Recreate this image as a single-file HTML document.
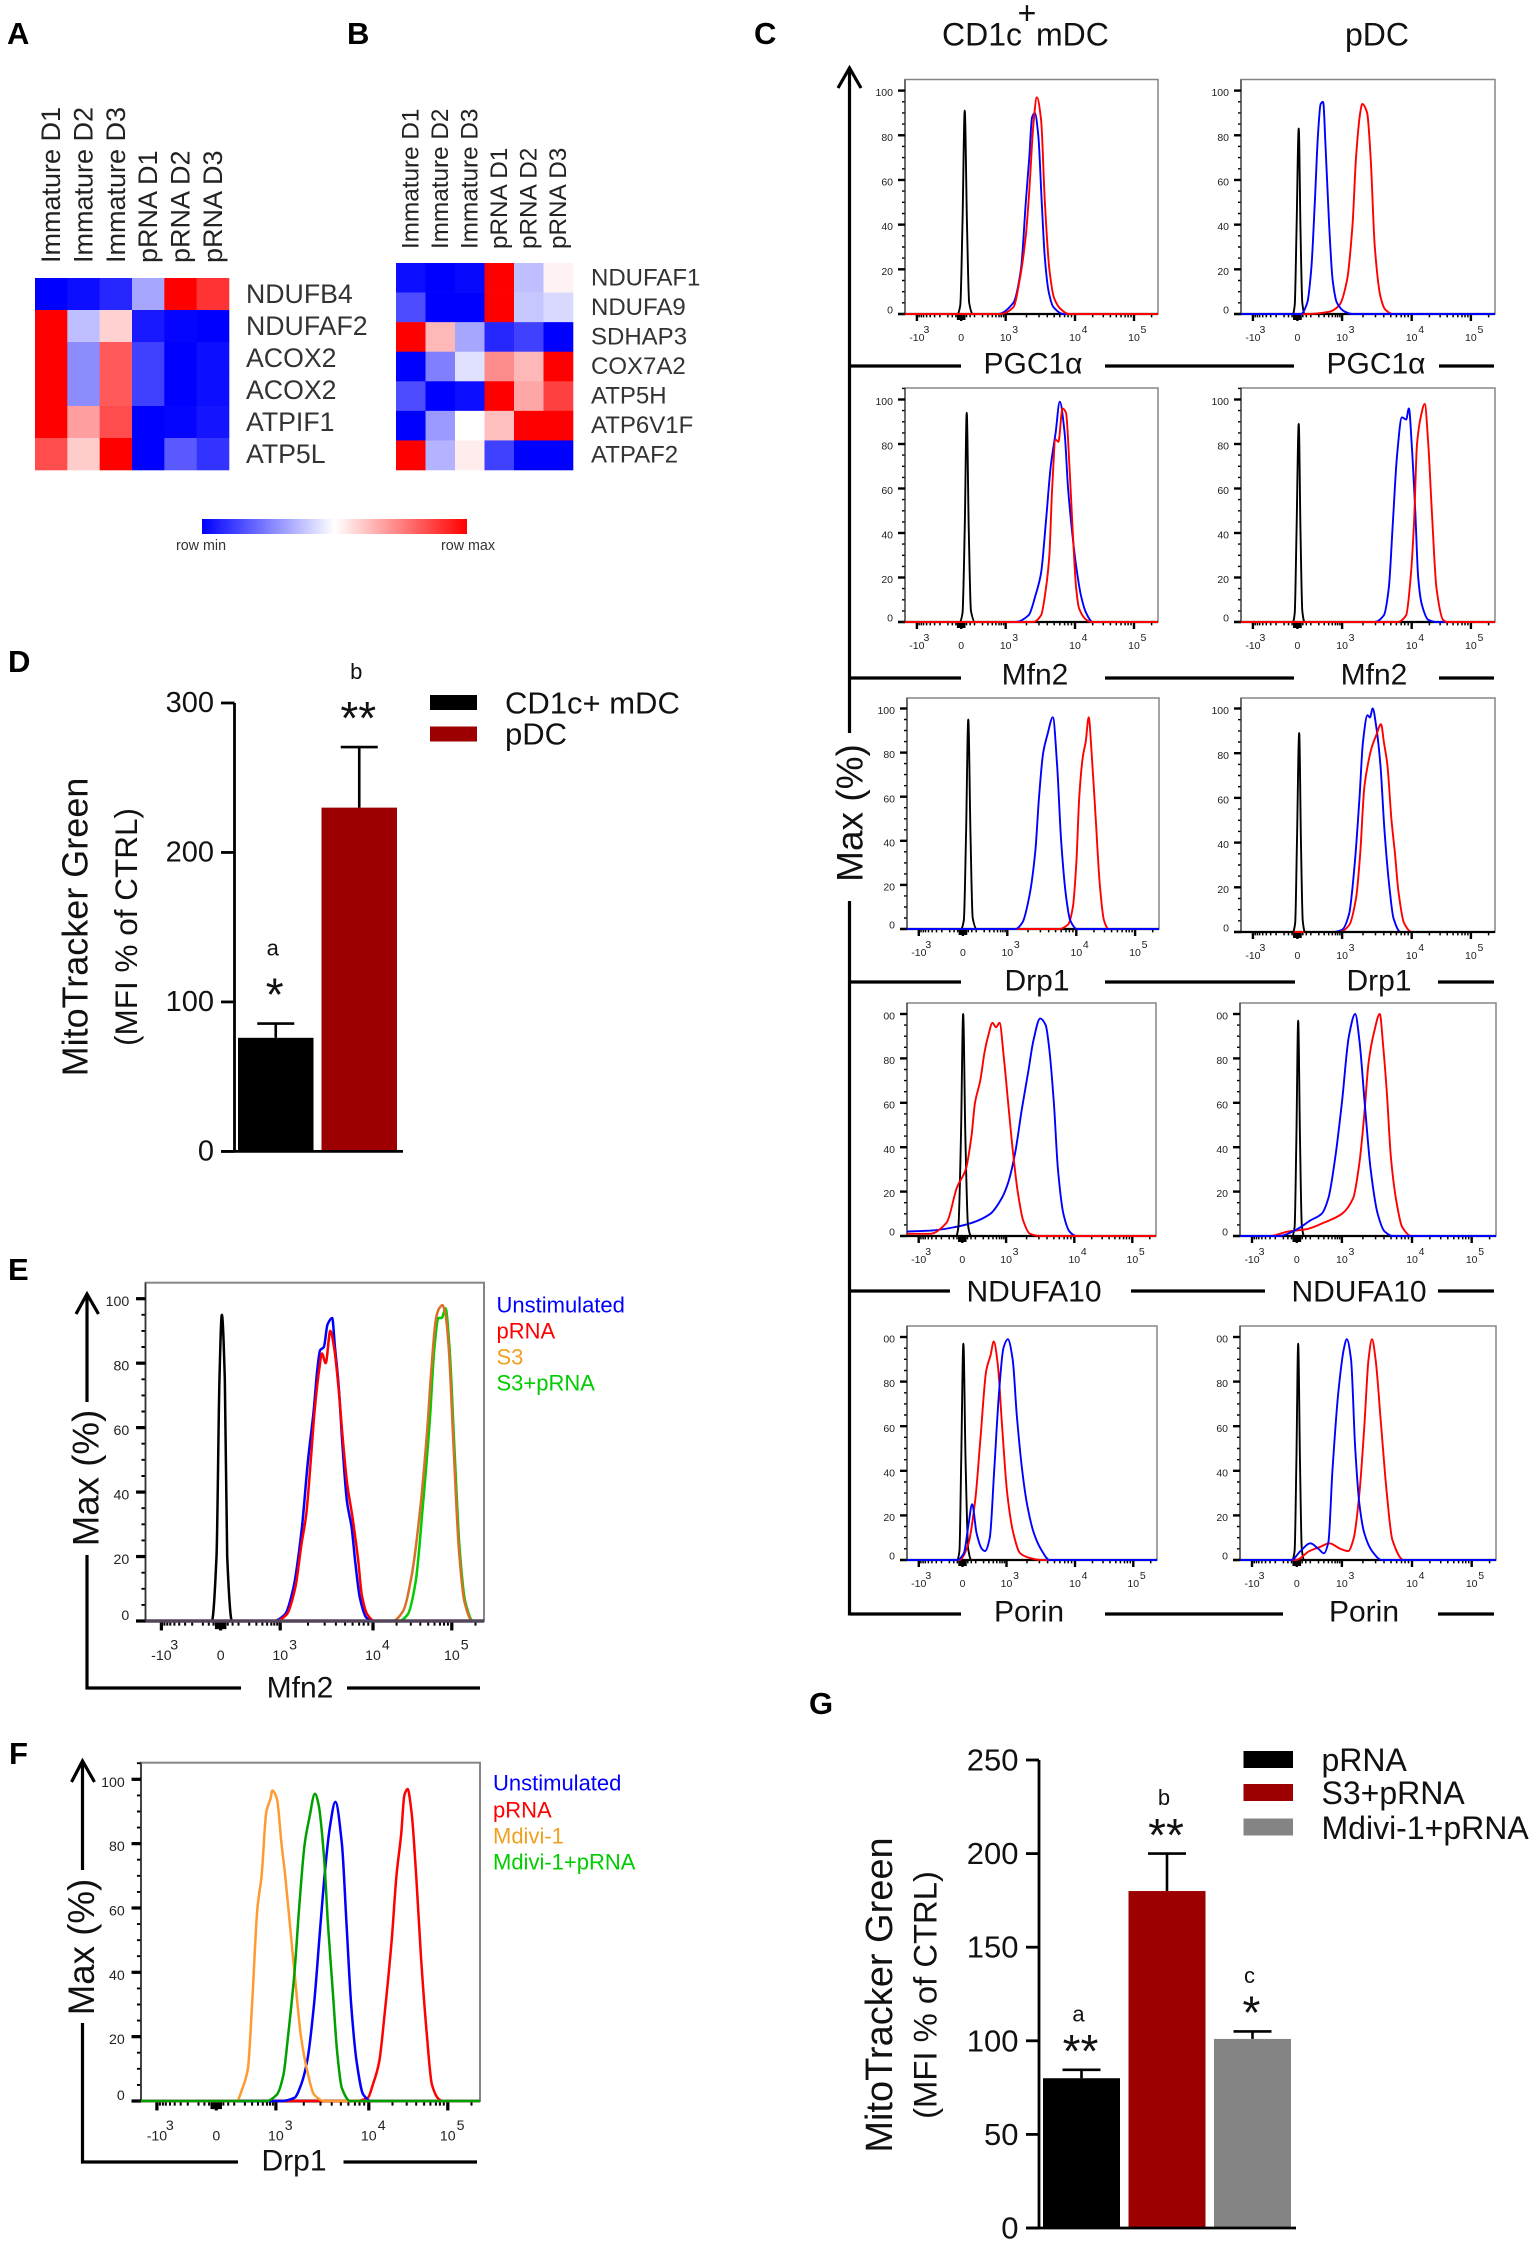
<!DOCTYPE html>
<html lang="en">
<head>
<meta charset="utf-8">
<title>Dendritic cell mitochondrial figure</title>
<style>
html,body{margin:0;padding:0;background:#fff;}
svg{display:block;}
text{font-family:"Liberation Sans",sans-serif;fill:#000;}
.letter{font-size:31px;font-weight:bold;}
.head{font-size:32px;fill:#111;}
.xlab{font-size:30px;text-anchor:middle;dominant-baseline:central;fill:#111;}
.ylab{text-anchor:middle;dominant-baseline:central;fill:#111;}
.leg{font-size:22px;dominant-baseline:central;}
.line{stroke:#000;fill:none;stroke-width:3.2;}
</style>
</head>
<body>
<svg id="figure" xmlns="http://www.w3.org/2000/svg" width="1534" height="2245" viewBox="0 0 1534 2245">
  <defs>
    <linearGradient id="rowScale" x1="0" x2="1" y1="0" y2="0">
      <stop offset="0" stop-color="#0000ff"/>
      <stop offset="0.5" stop-color="#ffffff"/>
      <stop offset="1" stop-color="#ff0000"/>
    </linearGradient>
  </defs>
  <rect x="0" y="0" width="1534" height="2245" fill="#fff"/>

  <text class="letter" x="7" y="44">A</text>
  <text class="letter" x="347" y="44">B</text>
  <text class="letter" x="754" y="44">C</text>
  <text class="letter" x="8" y="672">D</text>
  <text class="letter" x="8" y="1280">E</text>
  <text class="letter" x="9" y="1764">F</text>
  <text class="letter" x="809" y="1714">G</text>

  <rect x="202" y="519" width="265" height="15" fill="url(#rowScale)"/>
  <text x="201" y="546" font-size="14.3" text-anchor="middle" dominant-baseline="central" style="fill:#333">row min</text>
  <text x="468" y="546" font-size="14.3" text-anchor="middle" dominant-baseline="central" style="fill:#333">row max</text>

  <text class="head" x="942" y="45.5">CD1c</text>
  <text class="head" x="1027" y="24" text-anchor="middle">+</text>
  <text class="head" x="1036" y="45.5">mDC</text>
  <text class="head" x="1377" y="45.5" text-anchor="middle">pDC</text>

  <g>
    <path class="line" d="M849.5 68V733"/>
    <path class="line" d="M849.5 901V1615.5"/>
    <path class="line" d="M838 88L849.5 68L861 88"/>
    <path class="line" d="M850 366H961M1105 366H1294M1439 366H1494"/>
    <path class="line" d="M850 678H961M1105 678H1294M1439 678H1494"/>
    <path class="line" d="M850 982H961M1105 982H1295M1438 982H1494"/>
    <path class="line" d="M850 1291H950M1131 1291H1265M1438 1291H1494"/>
    <path class="line" d="M850 1614H961M1105 1614H1283M1438 1614H1494"/>
  </g>
  <text class="ylab" font-size="37" transform="translate(850 813) rotate(-90)">Max (%)</text>
  <text class="xlab" x="1033" y="364">PGC1α</text>
  <text class="xlab" x="1376" y="364">PGC1α</text>
  <text class="xlab" x="1035" y="675">Mfn2</text>
  <text class="xlab" x="1374" y="675">Mfn2</text>
  <text class="xlab" x="1037" y="981">Drp1</text>
  <text class="xlab" x="1379" y="981">Drp1</text>
  <text class="xlab" x="1034" y="1292">NDUFA10</text>
  <text class="xlab" x="1359" y="1292">NDUFA10</text>
  <text class="xlab" x="1029" y="1612">Porin</text>
  <text class="xlab" x="1364" y="1612">Porin</text>

  <text x="1486" y="97" font-size="22" text-anchor="end" dominant-baseline="central" style="fill:#000">Isotype</text>
  <text x="1486" y="123" font-size="22" text-anchor="end" dominant-baseline="central" style="fill:#0000ff">Unstim</text>
  <text x="1486" y="150" font-size="22" text-anchor="end" dominant-baseline="central" style="fill:#ff0000">pRNA</text>

  <!-- Panel D static text -->
  <text class="ylab" font-size="36" transform="translate(75 927) rotate(-90)">MitoTracker Green</text>
  <text class="ylab" font-size="31.5" transform="translate(126 927) rotate(-90)">(MFI % of CTRL)</text>
  <rect x="430" y="695" width="47" height="15" fill="#000"/>
  <rect x="430" y="726.5" width="47" height="15" fill="#9c0000"/>
  <text x="505" y="703" font-size="31" dominant-baseline="central" style="fill:#111">CD1c+ mDC</text>
  <text x="505" y="734" font-size="31" dominant-baseline="central" style="fill:#111">pDC</text>

  <!-- Panel E static text -->
  <g>
    <path class="line" d="M87 1294V1402M87 1555V1688H241M347 1688H480"/>
    <path class="line" d="M76 1314L87 1294L98.5 1314"/>
  </g>
  <text class="ylab" font-size="36.7" transform="translate(86 1478) rotate(-90)">Max (%)</text>
  <text class="xlab" x="300" y="1688">Mfn2</text>
  <text class="leg" x="496.5" y="1305" style="fill:#0000ff">Unstimulated</text>
  <text class="leg" x="496.5" y="1331" style="fill:#ff0000">pRNA</text>
  <text class="leg" x="496.5" y="1357" style="fill:#f0a020">S3</text>
  <text class="leg" x="496.5" y="1383" style="fill:#00cc00">S3+pRNA</text>

  <!-- Panel F static text -->
  <g>
    <path class="line" d="M82.5 1761V1870M82.5 2023V2162H238M343.5 2162H477"/>
    <path class="line" d="M71.5 1782L82.5 1761L94.5 1782"/>
  </g>
  <text class="ylab" font-size="36.7" transform="translate(81.5 1947) rotate(-90)">Max (%)</text>
  <text class="xlab" x="294" y="2161">Drp1</text>
  <text class="leg" x="493" y="1783" style="fill:#0000ff">Unstimulated</text>
  <text class="leg" x="493" y="1810" style="fill:#ff0000">pRNA</text>
  <text class="leg" x="493" y="1836" style="fill:#f0a020">Mdivi-1</text>
  <text class="leg" x="493" y="1862" style="fill:#00cc00">Mdivi-1+pRNA</text>

  <!-- Panel G static text -->
  <text class="ylab" font-size="38" transform="translate(880 1995) rotate(-90)">MitoTracker Green</text>
  <text class="ylab" font-size="32.8" transform="translate(925 1995) rotate(-90)">(MFI % of CTRL)</text>
  <rect x="1243.5" y="1751" width="49.5" height="17" fill="#000"/>
  <rect x="1243.5" y="1784" width="49.5" height="17" fill="#9c0000"/>
  <rect x="1243.5" y="1818.5" width="49.5" height="17" fill="#848484"/>
  <text x="1321.5" y="1760" font-size="32" dominant-baseline="central" style="fill:#111">pRNA</text>
  <text x="1321.5" y="1793" font-size="32" dominant-baseline="central" style="fill:#111">S3+pRNA</text>
  <text x="1321.5" y="1828" font-size="32" dominant-baseline="central" style="fill:#111">Mdivi-1+pRNA</text>
</svg>

<script>
// ---------- Heatmap data (row-normalised: -1 = row min, +1 = row max) ----------
const heatmapSamples = ['Immature D1','Immature D2','Immature D3','pRNA D1','pRNA D2','pRNA D3'];
const heatmapAGenes = ['NDUFB4','NDUFAF2','ACOX2','ACOX2','ATPIF1','ATP5L'];
const heatmapAValues = [
  [-1,-0.95,-0.85,-0.35,1,0.8],
  [1,-0.25,0.18,-0.9,-0.98,-1],
  [1,-0.45,0.65,-0.75,-1,-0.95],
  [1,-0.45,0.65,-0.75,-1,-0.95],
  [1,0.38,0.7,-1,-0.98,-0.92],
  [0.7,0.2,1,-1,-0.65,-0.8]
];
const heatmapBGenes = ['NDUFAF1','NDUFA9','SDHAP3','COX7A2','ATP5H','ATP6V1F','ATPAF2'];
const heatmapBValues = [
  [-0.95,-1,-0.97,1,-0.25,0.05],
  [-0.7,-1,-1,1,-0.22,-0.15],
  [1,0.28,-0.35,-0.85,-0.75,-1],
  [-1,-0.5,-0.12,0.45,0.28,1],
  [-0.7,-1,-0.95,1,0.35,0.75],
  [-1,-0.4,0,0.25,1,1],
  [1,-0.3,0.07,-0.75,-1,-1]
];

// ---------- Bar chart data ----------
const dCategories = ['CD1c+ mDC','pDC'];
const dValues = [76,230];
const dErrors = [9.5,40.5];
const dLetters = ['a','b'];
const dStars = ['*','**'];
const dTicks = [0,100,200,300];
const gCategories = ['pRNA','S3+pRNA','Mdivi-1+pRNA'];
const gValues = [80,180,101];
const gErrors = [4.5,20,4];
const gLetters = ['a','b','c'];
const gStars = ['**','**','*'];
const gTicks = [0,50,100,150,200,250];

// ---------- Flow histogram axis labels ----------
const flowYTicks = [0,20,40,60,80,100];
const flowXTicks = [-1,0,1,2,3];
const flowXTickBase = ['-10','0','10','10','10'];
const flowXTickExp = ['3','','3','4','5'];
const flowXMinor = [-0.95,-0.9,-0.85,-0.78,-0.7,-0.6,-0.48,-0.3,-0.2,-0.12,-0.08,-0.05,-0.02,0.02,0.05,0.08,0.12,0.2,0.3,0.48,0.6,0.7,0.78,0.85,0.9,0.95,1.3,1.48,1.6,1.7,1.78,1.85,1.9,1.95,2.3,2.48,2.6,2.7,2.78,2.85,2.9,2.95,3.3];

// ---------- Flow histograms: [axis position (decades: 0 = 0, 1 = 10^3 ...), % of max] ----------
const pgcMdcIsotype = [[-0.08,0],[-0.02,4],[0.03,41],[0.08,91],[0.13,41],[0.18,5],[0.26,0]];
const pgcMdcUnstim = [[0.83,0],[1.11,5],[1.22,20],[1.29,50],[1.34,70],[1.38,88],[1.42,90],[1.47,80],[1.52,50],[1.565,25],[1.62,10],[1.69,3],[1.83,0]];
const pgcMdcPrna = [[0.89,0],[1.11,3],[1.2,15],[1.29,35],[1.34,55],[1.4,85],[1.45,97],[1.51,87],[1.565,50],[1.63,20],[1.7,7],[1.8,2],[1.91,0]];
const pgcPdcIsotype = [[-0.1,0],[-0.06,4],[-0.02,37],[0.03,83],[0.07,37],[0.11,5],[0.16,0]];
const pgcPdcUnstim = [[0.08,0],[0.22,5],[0.31,20],[0.39,50],[0.46,80],[0.52,94],[0.575,95],[0.63,75],[0.71,40],[0.79,15],[0.885,5],[1.04,1],[1.15,0]];
const pgcPdcPrna = [[0.2,0],[0.71,1],[0.94,4],[1.07,15],[1.15,40],[1.2,70],[1.26,90],[1.29,94],[1.36,90],[1.41,70],[1.47,30],[1.55,8],[1.62,2],[1.73,0]];

const mfnMdcIsotype = [[-0.03,0],[0.03,4],[0.08,42],[0.125,94],[0.17,42],[0.22,5],[0.31,0]];
const mfnMdcUnstim = [[1.145,0],[1.33,3],[1.43,12],[1.51,22],[1.58,45],[1.65,70],[1.72,85],[1.78,99],[1.85,85],[1.9,60],[1.96,40],[2.02,25],[2.1,12],[2.19,4],[2.3,0]];
const mfnMdcPrna = [[1.4,0],[1.51,3],[1.58,15],[1.63,30],[1.67,60],[1.72,82],[1.76,81],[1.82,96],[1.87,94],[1.92,70],[1.96,45],[2.02,15],[2.07,6],[2.19,1],[2.27,0]];
const mfnPdcIsotype = [[-0.1,0],[-0.06,4],[-0.02,40],[0.03,89],[0.07,40],[0.11,5],[0.16,0]];
const mfnPdcUnstim = [[1.47,0],[1.6,3],[1.67,15],[1.73,45],[1.79,75],[1.86,92],[1.92,91],[1.96,96],[2,80],[2.06,50],[2.11,20],[2.17,8],[2.28,1],[2.41,0]];
const mfnPdcPrna = [[1.8,0],[1.92,3],[1.985,20],[2.04,45],[2.09,80],[2.16,93],[2.22,98],[2.28,80],[2.34,50],[2.42,15],[2.53,1],[2.6,0]];

const drpMdcIsotype = [[-0.04,0],[0.02,4],[0.07,43],[0.12,95],[0.17,43],[0.22,5],[0.31,0]];
const drpMdcUnstim = [[1.12,0],[1.22,3],[1.32,15],[1.405,35],[1.46,60],[1.52,80],[1.58,88],[1.66,96],[1.72,75],[1.78,40],[1.85,15],[1.91,4],[2.01,0]];
const drpMdcPrna = [[1.75,0],[1.88,2],[1.95,10],[2,30],[2.05,60],[2.11,78],[2.16,85],[2.21,96],[2.26,80],[2.33,50],[2.4,20],[2.47,4],[2.55,0]];
const drpPdcIsotype = [[-0.1,0],[-0.05,4],[-0.01,40],[0.04,89],[0.08,40],[0.12,5],[0.17,0]];
const drpPdcUnstim = [[0.8,0],[1,1],[1.1,8],[1.18,30],[1.25,60],[1.3,85],[1.365,97],[1.4,96],[1.44,100],[1.49,92],[1.55,75],[1.61,45],[1.68,20],[1.74,6],[1.84,0]];
const drpPdcPrna = [[0.95,0],[1.1,3],[1.2,15],[1.26,35],[1.32,65],[1.39,78],[1.43,83],[1.49,88],[1.56,93],[1.6,85],[1.65,75],[1.71,50],[1.76,35],[1.81,18],[1.89,4],[2,0]];

const ndufMdcIsotype = [[-0.14,0],[-0.09,4],[-0.03,45],[0.02,100],[0.07,45],[0.13,5],[0.2,0]];
const ndufMdcUnstim = [[-1.27,2],[-0.68,2.5],[-0.17,4],[0.23,6],[0.64,10],[0.9,17],[1.03,24],[1.13,37],[1.23,57],[1.33,75],[1.4,88],[1.5,98],[1.58,95],[1.63,85],[1.7,60],[1.76,30],[1.84,10],[1.93,2],[2.03,0]];
const ndufMdcPrna = [[-1.25,1],[-0.73,1],[-0.36,6],[-0.12,22],[0.08,30],[0.21,45],[0.29,60],[0.41,70],[0.51,83],[0.59,90],[0.69,96],[0.77,94],[0.85,96],[0.95,80],[1.03,60],[1.1,38],[1.17,20],[1.25,7],[1.35,1],[1.5,0]];
const ndufPdcIsotype = [[-0.1,0],[-0.05,4],[-0.01,44],[0.03,97],[0.07,44],[0.11,5],[0.16,0]];
const ndufPdcUnstim = [[-0.4,0],[0,3],[0.3,7],[0.55,10],[0.7,17],[0.85,35],[1,60],[1.1,90],[1.19,100],[1.25,88],[1.33,58],[1.41,30],[1.51,10],[1.61,2],[1.73,0]];
const ndufPdcPrna = [[-0.6,0],[-0.2,2],[0.2,3],[0.6,6],[1,10],[1.16,17],[1.25,33],[1.32,55],[1.38,78],[1.46,92],[1.54,100],[1.59,85],[1.64,65],[1.7,35],[1.78,15],[1.86,4],[1.99,0]];

const porinMdcIsotype = [[-0.12,0],[-0.07,4],[-0.03,44],[0.02,97],[0.07,44],[0.13,5],[0.2,0]];
const porinMdcUnstim = [[-0.12,0],[0.03,3],[0.13,15],[0.22,25],[0.32,12],[0.44,5],[0.51,4],[0.62,10],[0.72,40],[0.83,75],[0.93,95],[1.02,99],[1.09,90],[1.15,65],[1.23,40],[1.3,25],[1.4,12],[1.5,5],[1.63,0]];
const porinMdcPrna = [[-0.07,0],[0.13,7],[0.29,27],[0.41,55],[0.54,85],[0.64,92],[0.71,98],[0.8,88],[0.9,60],[1.01,30],[1.1,12],[1.2,3],[1.33,1],[1.5,0]];
const porinPdcIsotype = [[-0.1,0],[-0.05,4],[-0.01,44],[0.03,97],[0.07,44],[0.11,5],[0.16,0]];
const porinPdcUnstim = [[-0.12,0],[0.08,4],[0.3,7.5],[0.48,5],[0.6,3],[0.7,8],[0.79,40],[0.92,75],[1.03,95],[1.07,99],[1.13,90],[1.19,50],[1.25,25],[1.32,12],[1.43,4],[1.57,0]];
const porinPdcPrna = [[-0.02,0],[0.28,4],[0.53,6],[0.72,7.5],[0.97,5],[1.09,4],[1.17,10],[1.25,30],[1.32,60],[1.38,90],[1.43,99],[1.48,90],[1.56,60],[1.64,30],[1.72,9],[1.88,0]];

const eIsotype = [[-0.15,0],[-0.07,20],[-0.02,75],[0.02,95],[0.07,75],[0.11,20],[0.19,0]];
const eUnstim = [[0.89,0],[1.05,2],[1.14,10],[1.23,28],[1.3,50],[1.36,65],[1.4,78],[1.43,84],[1.47,85],[1.51,92],[1.56,94],[1.59,85],[1.63,73],[1.67,55],[1.72,37],[1.77,29],[1.81,18],[1.86,7],[1.93,1],[2,0]];
const ePrna = [[0.93,0],[1.07,2],[1.16,10],[1.23,24],[1.28,33],[1.33,50],[1.37,65],[1.42,78],[1.45,83],[1.49,80],[1.54,90],[1.58,85],[1.63,72],[1.67,58],[1.72,43],[1.78,32],[1.84,19],[1.88,8],[1.94,2],[2.02,0]];
const eS3 = [[2.25,0],[2.38,3],[2.49,14],[2.6,35],[2.69,60],[2.74,78],[2.8,94],[2.84,97],[2.88,98],[2.92,95],[2.96,85],[3.02,55],[3.09,22],[3.16,6],[3.26,0]];
const eS3Prna = [[2.33,0],[2.44,2],[2.54,12],[2.63,35],[2.72,62],[2.78,85],[2.83,94],[2.87,94],[2.92,97],[2.97,85],[3.03,55],[3.1,22],[3.17,6],[3.27,0]];

const fMdivi = [[0.34,0],[0.44,4],[0.53,10],[0.6,30],[0.69,60],[0.76,70],[0.84,90],[0.91,94],[0.94,96.5],[1.01,94],[1.06,80],[1.1,70],[1.15,55],[1.2,40],[1.27,20],[1.34,9],[1.41,2],[1.52,0]];
const fMdiviPrna = [[0.84,0],[1.01,2],[1.08,8],[1.13,20],[1.2,40],[1.25,60],[1.31,80],[1.36,88],[1.42,95.5],[1.46,92],[1.52,75],[1.56,55],[1.61,35],[1.66,15],[1.71,4],[1.8,0]];
const fUnstim = [[1.06,0],[1.2,1],[1.27,5],[1.34,13],[1.41,30],[1.48,55],[1.53,72],[1.58,85],[1.64,93],[1.71,80],[1.76,55],[1.81,30],[1.87,12],[1.94,2],[2.03,0]];
const fPrna = [[1.87,0],[1.99,1],[2.05,5],[2.13,12],[2.2,27],[2.29,50],[2.35,70],[2.41,83],[2.45,95],[2.49,97],[2.54,90],[2.6,70],[2.66,45],[2.73,22],[2.8,5],[2.89,0.5],[2.94,0]];

// ---------- Drawing ----------
const svg = document.getElementById('figure');
const NS = 'http://www.w3.org/2000/svg';
function make(tag, attrs, parent) {
  const node = document.createElementNS(NS, tag);
  for (const key in attrs) node.setAttribute(key, attrs[key]);
  parent.appendChild(node);
  return node;
}
function heatColor(v) {
  const t = Math.min(1, Math.abs(v));
  const c = Math.round(255 * (1 - t));
  return v >= 0 ? 'rgb(255,' + c + ',' + c + ')' : 'rgb(' + c + ',' + c + ',255)';
}

function drawHeatmap(values, genes, box) {
  const group = make('g', {}, svg);
  
  
  const cw = box.w / heatmapSamples.length;
  const ch = box.h / genes.length;
  values.forEach(function (row, r) {
    row.forEach(function (v, c) {
      const cell = make('rect', {x: box.x + c * cw, y: box.y + r * ch, width: cw + 0.3, height: ch + 0.3, fill: heatColor(v)}, group);
      
      
    });
  });
  heatmapSamples.forEach(function (s, c) {
    const cx = box.x + (c + 0.5) * cw;
    const t = make('text', {transform: 'translate(' + cx + ' ' + box.labelBottom + ') rotate(-90)', 'font-size': box.colFont, 'dominant-baseline': 'central', style: 'fill:#222'}, group);
    t.textContent = s;
    
    
  });
  genes.forEach(function (g, r) {
    const t = make('text', {x: box.labelX, y: box.y + (r + 0.5) * ch, 'font-size': box.rowFont, 'dominant-baseline': 'central', style: 'fill:#333'}, group);
    t.textContent = g;
    
    
  });
}
drawHeatmap(heatmapAValues, heatmapAGenes, {name: 'heatmap-a', x: 35, y: 278, w: 194, h: 192, labelX: 246, labelBottom: 263, colFont: 27, rowFont: 26.7});
drawHeatmap(heatmapBValues, heatmapBGenes, {name: 'heatmap-b', x: 396, y: 263, w: 177, h: 207, labelX: 591, labelBottom: 249, colFont: 24.3, rowFont: 24});

function monotonePath(pts) {
  const n = pts.length;
  const m = [];
  const t = [];
  for (let i = 0; i < n - 1; i++) m.push((pts[i + 1][1] - pts[i][1]) / Math.max(pts[i + 1][0] - pts[i][0], 0.001));
  t[0] = m[0];
  t[n - 1] = m[n - 2];
  for (let i = 1; i < n - 1; i++) t[i] = m[i - 1] * m[i] <= 0 ? 0 : 2 * m[i - 1] * m[i] / (m[i - 1] + m[i]);
  let d = 'M' + pts[0][0].toFixed(2) + ' ' + pts[0][1].toFixed(2);
  for (let i = 0; i < n - 1; i++) {
    const h = (pts[i + 1][0] - pts[i][0]) / 3;
    d += 'C' + (pts[i][0] + h).toFixed(2) + ' ' + (pts[i][1] + t[i] * h).toFixed(2) + ' ' + (pts[i + 1][0] - h).toFixed(2) + ' ' + (pts[i + 1][1] - t[i + 1] * h).toFixed(2) + ' ' + pts[i + 1][0].toFixed(2) + ' ' + pts[i + 1][1].toFixed(2);
  }
  return d;
}

function flowX(u, p) {
  const f = [0.047, 0.222, 0.398, 0.672, 0.905];
  let frac;
  if (u <= 0) frac = f[1] + u * (f[1] - f[0]);
  else if (u >= 3) frac = f[4] + (u - 3) * (f[4] - f[3]);
  else { const i = Math.floor(u); frac = f[i + 1] + (u - i) * (f[i + 2] - f[i + 1]); }
  return p.left + frac * p.w;
}
function flowY(v, p) {
  return p.zero - v * (p.zero - p.hundred) / 100;
}

function drawFlow(p) {
  const k = p.k;
  const labelDy = p.labelDy || 24;
  const supDy = p.supDy || 16;
  const group = make('g', {}, svg);
  
  

  const frame = make('rect', {x: p.left, y: p.top, width: p.w, height: p.zero - p.top, fill: '#fff', stroke: '#868686', 'stroke-width': 1.5 * k}, group);
  
  

  // y minor ticks
  let minorY = '';
  for (let v = 5; v <= 105; v += 5) {
    if (v % 20 !== 0 && flowY(v, p) > p.top) minorY += 'M' + (p.left - 3 * k) + ' ' + flowY(v, p).toFixed(1) + 'H' + p.left;
  }
  const yMinor = make('path', {d: minorY, stroke: '#000', 'stroke-width': 1.4 * k}, group);
  
  

  const yLine = make('path', {d: 'M' + p.left + ' ' + p.top + 'V' + p.zero, stroke: '#333', 'stroke-width': 1.2 * k}, group);
  
  

  flowYTicks.forEach(function (v) {
    const y = flowY(v, p);
    const tick = make('path', {d: 'M' + (p.left - 7 * k) + ' ' + y + 'H' + p.left, stroke: '#000', 'stroke-width': 2.4 * k}, group);
    
    
    const dy = v === 0 ? -3.6 * k : 2.6 * k;
    const label = make('text', {x: p.left - 12 * k, y: y + dy, 'font-size': 10.5 * k, 'text-anchor': 'end', 'dominant-baseline': 'central', style: 'fill:#222'}, group);
    label.textContent = v === 100 ? p.topLabel : String(v);
    
    
  });

  // x minor ticks
  let minorX = '';
  flowXMinor.forEach(function (u) {
    const len = Math.abs(u) < 0.1 ? 6 : 3.4;
    minorX += 'M' + flowX(u, p).toFixed(1) + ' ' + p.zero + 'v' + (len * k);
  });
  const xMinor = make('path', {d: minorX, stroke: '#000', 'stroke-width': 1.5 * k}, group);
  
  

  flowXTicks.forEach(function (u, i) {
    const x = flowX(u, p);
    const tick = make('path', {d: 'M' + x.toFixed(1) + ' ' + p.zero + 'v' + (7 * k), stroke: '#000', 'stroke-width': 2.4 * k}, group);
    
    
    const label = make('text', {x: x, y: p.zero + labelDy, 'font-size': 10.5 * k, 'text-anchor': 'middle', 'dominant-baseline': 'central', style: 'fill:#222'}, group);
    label.textContent = flowXTickBase[i];
    
    
    if (flowXTickExp[i]) {
      const sup = make('text', {x: x + 9.5 * k, y: p.zero + supDy, 'font-size': 10.5 * k, 'text-anchor': 'middle', 'dominant-baseline': 'central', style: 'fill:#222'}, group);
      sup.textContent = flowXTickExp[i];
      
      
    }
  });

  const baseline = make('path', {d: 'M' + (p.left - 7 * k) + ' ' + p.zero + 'H' + (p.left + p.w), stroke: '#000', 'stroke-width': 2.2 * k}, group);
  
  

  p.series.forEach(function (s) {
    const pts = s.data.map(function (d) { return [flowX(d[0], p), flowY(d[1], p)]; });
    if (pts[0][0] > p.left + 0.5) pts.unshift([p.left, pts[0][1]]);
    if (pts[pts.length - 1][0] < p.left + p.w - 0.5) pts.push([p.left + p.w, pts[pts.length - 1][1]]);
    const line = make('path', {d: monotonePath(pts), fill: 'none', stroke: s.color, 'stroke-width': p.sw, 'stroke-linejoin': 'round'}, group);
    
    
  });

  if (p.baselineOver) {
    const over = make('path', {d: 'M' + p.left + ' ' + p.zero + 'H' + (p.left + p.w), stroke: p.baselineOver, 'stroke-width': 2.6 * k}, group);
    
    
  }
}

const BLACK = '#000000', BLUE = '#0000ff', RED = '#ff0000';
const flowPanels = [
  {name: 'histogram-pgc1a-mdc', left: 905, top: 79.5, w: 253, zero: 314, hundred: 90.6, k: 1, sw: 1.9, topLabel: '100', series: [
    {data: pgcMdcIsotype, color: BLACK, label: 'isotype-curve'}, {data: pgcMdcUnstim, color: BLUE, label: 'unstim-curve'}, {data: pgcMdcPrna, color: RED, label: 'prna-curve'}]},
  {name: 'histogram-pgc1a-pdc', left: 1241, top: 79.5, w: 254, zero: 314, hundred: 90.6, k: 1, sw: 1.9, topLabel: '100', series: [
    {data: pgcPdcIsotype, color: BLACK, label: 'isotype-curve'}, {data: pgcPdcPrna, color: RED, label: 'prna-curve'}, {data: pgcPdcUnstim, color: BLUE, label: 'unstim-curve'}]},
  {name: 'histogram-mfn2-mdc', left: 905, top: 388, w: 253, zero: 622, hundred: 399.5, k: 1, sw: 1.9, topLabel: '100', series: [
    {data: mfnMdcIsotype, color: BLACK, label: 'isotype-curve'}, {data: mfnMdcUnstim, color: BLUE, label: 'unstim-curve'}, {data: mfnMdcPrna, color: RED, label: 'prna-curve'}]},
  {name: 'histogram-mfn2-pdc', left: 1241, top: 388, w: 254, zero: 622, hundred: 399.5, k: 1, sw: 1.9, topLabel: '100', series: [
    {data: mfnPdcIsotype, color: BLACK, label: 'isotype-curve'}, {data: mfnPdcUnstim, color: BLUE, label: 'unstim-curve'}, {data: mfnPdcPrna, color: RED, label: 'prna-curve'}]},
  {name: 'histogram-drp1-mdc', left: 907, top: 698, w: 252, zero: 929, hundred: 708.5, k: 1, sw: 1.9, topLabel: '100', series: [
    {data: drpMdcIsotype, color: BLACK, label: 'isotype-curve'}, {data: drpMdcPrna, color: RED, label: 'prna-curve'}, {data: drpMdcUnstim, color: BLUE, label: 'unstim-curve'}]},
  {name: 'histogram-drp1-pdc', left: 1241, top: 698, w: 254, zero: 932, hundred: 708.5, k: 1, sw: 1.9, topLabel: '100', series: [
    {data: drpPdcUnstim, color: BLUE, label: 'unstim-curve'}, {data: drpPdcPrna, color: RED, label: 'prna-curve'}, {data: drpPdcIsotype, color: BLACK, label: 'isotype-curve'}]},
  {name: 'histogram-ndufa10-mdc', left: 907, top: 1003, w: 249, zero: 1236, hundred: 1014, k: 1, sw: 1.9, topLabel: '00', series: [
    {data: ndufMdcUnstim, color: BLUE, label: 'unstim-curve'}, {data: ndufMdcIsotype, color: BLACK, label: 'isotype-curve'}, {data: ndufMdcPrna, color: RED, label: 'prna-curve'}]},
  {name: 'histogram-ndufa10-pdc', left: 1240, top: 1003, w: 256, zero: 1236, hundred: 1014, k: 1, sw: 1.9, topLabel: '00', series: [
    {data: ndufPdcIsotype, color: BLACK, label: 'isotype-curve'}, {data: ndufPdcPrna, color: RED, label: 'prna-curve'}, {data: ndufPdcUnstim, color: BLUE, label: 'unstim-curve'}]},
  {name: 'histogram-porin-mdc', left: 907, top: 1326, w: 250, zero: 1560, hundred: 1337, k: 1, sw: 1.9, topLabel: '00', series: [
    {data: porinMdcIsotype, color: BLACK, label: 'isotype-curve'}, {data: porinMdcPrna, color: RED, label: 'prna-curve'}, {data: porinMdcUnstim, color: BLUE, label: 'unstim-curve'}]},
  {name: 'histogram-porin-pdc', left: 1240, top: 1326, w: 256, zero: 1560, hundred: 1337, k: 1, sw: 1.9, topLabel: '00', series: [
    {data: porinPdcIsotype, color: BLACK, label: 'isotype-curve'}, {data: porinPdcPrna, color: RED, label: 'prna-curve'}, {data: porinPdcUnstim, color: BLUE, label: 'unstim-curve'}]},
  {name: 'histogram-panel-e', left: 145.5, top: 1282.7, w: 338.5, zero: 1621, hundred: 1298.7, k: 1.35, sw: 2.5, labelDy: 35, supDy: 24.5, topLabel: '100', baselineOver: '#54465a', series: [
    {data: eIsotype, color: BLACK, label: 'isotype-curve'}, {data: eUnstim, color: BLUE, label: 'unstimulated-curve'}, {data: ePrna, color: RED, label: 'prna-curve'}, {data: eS3Prna, color: '#00cc00', label: 's3-prna-curve'}, {data: eS3, color: '#d9702a', label: 's3-curve'}]},
  {name: 'histogram-panel-f', left: 141, top: 1762.7, w: 339, zero: 2101, hundred: 1779.3, k: 1.35, sw: 2.5, labelDy: 35.5, supDy: 25, topLabel: '100', series: [
    {data: fPrna, color: RED, label: 'prna-curve'}, {data: fUnstim, color: BLUE, label: 'unstimulated-curve'}, {data: fMdivi, color: '#ff9a30', label: 'mdivi-curve'}, {data: fMdiviPrna, color: '#00a000', label: 'mdivi-prna-curve'}]}
];
flowPanels.forEach(drawFlow);

function drawBars(cfg, values, errors, letters, stars, ticks, categories) {
  const group = make('g', {}, svg);
  
  
  const yOf = function (v) { return cfg.zero - v * cfg.unit; };

  values.forEach(function (v, i) {
    const x = cfg.first + i * cfg.step;
    const cx = x + cfg.width / 2;
    const bar = make('rect', {x: x, y: yOf(v), width: cfg.width, height: cfg.zero - yOf(v), fill: cfg.colors[i]}, group);
    
    
    bar.setAttribute('aria-label', categories[i]);
    const top = yOf(v + errors[i]);
    const err = make('path', {d: 'M' + cx + ' ' + yOf(v) + 'V' + top + 'M' + (cx - cfg.cap) + ' ' + top + 'H' + (cx + cfg.cap), stroke: '#000', 'stroke-width': 2.6, fill: 'none'}, group);
    
    
    const letter = make('text', {x: cx - 3, y: top - cfg.letterOffset, 'font-size': 22, 'text-anchor': 'middle', 'dominant-baseline': 'central', style: 'fill:#111'}, group);
    letter.textContent = letters[i];
    
    
    const star = make('text', {x: cx - 1, y: top - cfg.starOffset + 0.58 * 46, 'font-size': 46, 'text-anchor': 'middle', style: 'fill:#111'}, group);
    star.textContent = stars[i];
    
    
  });

  const axis = make('path', {d: 'M' + cfg.axisX + ' ' + yOf(ticks[ticks.length - 1]) + 'V' + cfg.zero + 'M' + cfg.tickX + ' ' + cfg.zero + 'H' + cfg.baseEnd, stroke: '#000', 'stroke-width': 2.8, fill: 'none'}, group);
  
  
  ticks.forEach(function (v) {
    const tick = make('path', {d: 'M' + cfg.tickX + ' ' + yOf(v) + 'H' + cfg.axisX, stroke: '#000', 'stroke-width': 2.8}, group);
    
    
    const label = make('text', {x: cfg.labelX, y: yOf(v), 'font-size': cfg.tickFont, 'text-anchor': 'end', 'dominant-baseline': 'central', style: 'fill:#111'}, group);
    label.textContent = String(v);
    
    
  });
}
drawBars({name: 'bar-chart-d', zero: 1151.4, unit: 1.4947, first: 238, step: 83.5, width: 75.5, cap: 18.5, axisX: 234.5, tickX: 221, baseEnd: 403, labelX: 214, tickFont: 29, colors: ['#000000', '#9c0000'], letterOffset: 75.5, starOffset: 40}, dValues, dErrors, dLetters, dStars, dTicks, dCategories);
drawBars({name: 'bar-chart-g', zero: 2228, unit: 1.872, first: 1043, step: 85.5, width: 77, cap: 19, axisX: 1039, tickX: 1026, baseEnd: 1296, labelX: 1018.5, tickFont: 31, colors: ['#000000', '#9c0000', '#848484'], letterOffset: 56, starOffset: 29.5}, gValues, gErrors, gLetters, gStars, gTicks, gCategories);
</script>
</body>
</html>
